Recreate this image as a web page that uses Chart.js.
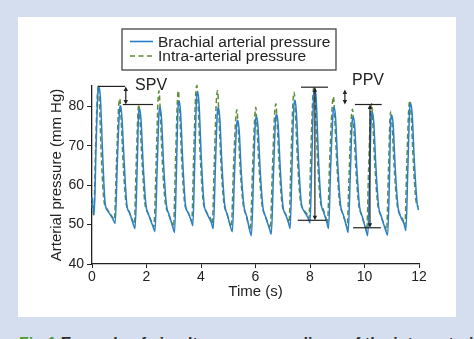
<!DOCTYPE html>
<html>
<head>
<meta charset="utf-8">
<script src="https://cdn.jsdelivr.net/npm/chart.js@4"></script>
<style>
  html, body { margin: 0; padding: 0; }
  body { width: 474px; height: 339px; overflow: hidden; background: #d5deef; position: relative;
         font-family: 'Liberation Sans', Arial, sans-serif; }
  #panel { position: absolute; left: 18px; top: 17px; width: 438px; height: 300px; background: #fff; }
  #caption { position: absolute; left: 19px; top: 335px; white-space: nowrap; font-weight: bold;
             font-size: 16px; color: #2b2b2b; }
  #caption span { color: #4e9a3c; }
</style>
</head>
<body>
<div id="panel"><canvas id="chart" width="438" height="300"></canvas></div>
<div id="caption"><span>Fig 1</span> Example of simultaneous recordings of the intra-arterial (IAP) and brachial pressure</div>
<script>
// brachial arterial pressure (solid), one row per beat
const blueTime = [
  0, 0.04, 0.08,
  0.15, 0.22, 0.26, 0.31, 0.39, 0.48, 0.58, 0.76, 0.85,
  0.93, 1.01, 1.05, 1.10, 1.18, 1.28, 1.38, 1.52, 1.58,
  1.66, 1.71, 1.75, 1.80, 1.88, 1.98, 2.08, 2.24, 2.31,
  2.39, 2.46, 2.50, 2.55, 2.63, 2.73, 2.83, 2.96, 3.03,
  3.10, 3.16, 3.20, 3.25, 3.33, 3.43, 3.53, 3.64, 3.70,
  3.77, 3.84, 3.88, 3.93, 4.01, 4.11, 4.21, 4.38, 4.45,
  4.53, 4.60, 4.64, 4.69, 4.77, 4.87, 4.97, 5.08, 5.15,
  5.23, 5.31, 5.35, 5.40, 5.48, 5.58, 5.68, 5.79, 5.85,
  5.93, 6.00, 6.04, 6.09, 6.17, 6.27, 6.37, 6.51, 6.58,
  6.66, 6.74, 6.78, 6.83, 6.91, 7.01, 7.11, 7.21, 7.27,
  7.34, 7.41, 7.45, 7.50, 7.58, 7.68, 7.78, 7.94, 8.00,
  8.07, 8.14, 8.18, 8.23, 8.31, 8.41, 8.51, 8.62, 8.68,
  8.76, 8.85, 8.89, 8.94, 9.02, 9.12, 9.22, 9.34, 9.40,
  9.48, 9.55, 9.59, 9.64, 9.72, 9.82, 9.92, 10.06, 10.12,
  10.19, 10.25, 10.29, 10.34, 10.42, 10.52, 10.62, 10.78, 10.85,
  10.92, 10.96, 11.00, 11.05, 11.13, 11.23, 11.33, 11.46, 11.52,
  11.59, 11.66, 11.70, 11.75, 11.83, 11.93, 11.98
];
const bluePressure = [
  57.0, 54.5, 52.5,
  70, 84, 85.0, 82, 68, 55.5, 53.5, 51.5, 50.3,
  66, 79, 80.2, 77, 66, 55, 53, 50, 49.0,
  65, 78, 79.4, 76.5, 65, 55, 52.5, 49.5, 48.2,
  64, 78.5, 79.8, 77, 65, 55, 52.5, 49.5, 48.0,
  64, 80, 81.3, 78.5, 66, 55, 53, 51, 49.7,
  66, 82.5, 83.6, 80.5, 67, 55.5, 53, 50.5, 49.0,
  65, 78.5, 79.8, 77, 65, 55, 52.5, 49.5, 48.2,
  63, 75.5, 76.5, 74, 63, 54.5, 52, 48.5, 47.2,
  63, 76.3, 77.3, 75, 64, 54.5, 52, 49, 47.6,
  63, 77, 78.0, 75.5, 64, 54.5, 52.5, 50.5, 49.0,
  65, 80.3, 81.5, 78.5, 66, 55.5, 53.5, 51.5, 50.4,
  67, 83.5, 84.5, 81.5, 67, 55.5, 53, 50.5, 49.0,
  65, 78.7, 79.8, 77, 65, 55, 52.5, 49.5, 48.0,
  63, 76.3, 77.3, 75, 64, 54.5, 52, 48.5, 47.2,
  63, 77.5, 78.6, 76, 64.5, 54.5, 52, 48.5, 47.3,
  63, 76.5, 77.7, 75.5, 64, 54.5, 52, 50, 48.5,
  64, 79.5, 80.7, 78, 66, 55.5, 53.7
];

// intra-arterial pressure (dashed)
const greenTime = [
  0, 0.03, 0.06,
  0.13, 0.19, 0.23, 0.27, 0.35, 0.44, 0.55, 0.74, 0.82,
  0.90, 0.97, 1.02, 1.06, 1.14, 1.24, 1.35, 1.49, 1.55,
  1.62, 1.68, 1.72, 1.76, 1.84, 1.94, 2.05, 2.20, 2.27,
  2.35, 2.42, 2.46, 2.50, 2.58, 2.68, 2.79, 2.93, 2.99,
  3.06, 3.13, 3.17, 3.21, 3.29, 3.39, 3.50, 3.61, 3.66,
  3.73, 3.80, 3.85, 3.89, 3.97, 4.07, 4.18, 4.35, 4.41,
  4.49, 4.56, 4.61, 4.65, 4.73, 4.83, 4.94, 5.05, 5.11,
  5.19, 5.27, 5.32, 5.36, 5.44, 5.54, 5.65, 5.76, 5.81,
  5.89, 5.97, 6.01, 6.05, 6.13, 6.23, 6.34, 6.48, 6.54,
  6.62, 6.70, 6.75, 6.79, 6.87, 6.97, 7.08, 7.18, 7.23,
  7.30, 7.37, 7.42, 7.46, 7.54, 7.64, 7.75, 7.91, 7.96,
  8.03, 8.10, 8.15, 8.19, 8.27, 8.37, 8.48, 8.59, 8.64,
  8.72, 8.81, 8.86, 8.90, 8.98, 9.08, 9.19, 9.31, 9.36,
  9.44, 9.51, 9.56, 9.60, 9.68, 9.78, 9.89, 10.03, 10.08,
  10.15, 10.22, 10.26, 10.30, 10.38, 10.48, 10.59, 10.75, 10.81,
  10.88, 10.93, 10.97, 11.01, 11.09, 11.19, 11.30, 11.43, 11.48,
  11.55, 11.62, 11.67, 11.71, 11.79, 11.89, 11.98
];
const greenPressure = [
  55.5, 53.5, 52.5,
  69, 82, 85.3, 81, 66, 56, 54, 52, 51.3,
  66, 79, 82, 78, 66, 56, 53.5, 51, 50.2,
  65, 77.5, 80.5, 76.5, 65.5, 55.5, 53, 50.5, 49.4,
  65, 81, 84, 79.5, 66, 56, 53, 50.5, 49.3,
  65, 81, 84, 79.5, 66.5, 56, 53.5, 51.8, 50.8,
  67, 82.5, 85.3, 81, 67.5, 56.5, 53.5, 51.5, 50.2,
  66, 81, 84, 79, 66, 56, 53, 50.5, 49.4,
  64, 76.5, 79.2, 75, 64, 55.5, 52.5, 49.5, 48.5,
  64, 77, 79.8, 75.5, 64.5, 55.5, 52.5, 50, 48.8,
  64, 78, 80.7, 76.5, 65, 55.5, 53, 51.5, 50.2,
  66, 80.5, 83.6, 79, 66.5, 56.5, 54, 52.5, 51.5,
  68, 82, 85.0, 81, 67.5, 56.5, 54, 51.5, 50.2,
  66, 79.5, 82.5, 78, 66, 56, 53, 50.5, 49.3,
  64, 76.5, 79.3, 75.5, 64.5, 55.5, 52.5, 49.5, 48.4,
  64, 78, 80.7, 76.5, 65, 55.5, 52.5, 49.5, 48.5,
  64, 76, 78.8, 75.5, 64.5, 55.5, 52.5, 51, 49.7,
  65, 79, 81.5, 78, 66, 56, 54.5
];

const xTicks = [0, 2, 4, 6, 8, 10, 12];
const yTicks = [40, 50, 60, 70, 80];

// SPV / PPV brackets in data units: [t1, p1, t2, p2]
const bracketLines = [
  [0.22, 85.1, 1.21, 85.1], [1.13, 80.5, 2.24, 80.5],
  [7.67, 84.9, 8.66, 84.9], [7.55, 51.1, 8.59, 51.1],
  [9.65, 80.5, 10.63, 80.5], [9.58, 49.2, 10.60, 49.2]
];
// double arrows: [t, pTop, pBottom]
const bracketArrows = [
  [1.24, 85.1, 80.5], [8.18, 84.9, 51.1], [9.28, 84.3, 80.5], [10.20, 80.5, 49.2]
];
// labels: [text, t, p]
const bracketLabels = [['SPV', 1.58, 84.3], ['PPV', 9.54, 85.4]];

const BLUE = '#2a7fc9';
const GREEN = '#5e8c3a';
const INK = '#222';

const toPoints = (ts, vs) => ts.map((t, i) => ({x: t, y: vs[i]}));

const annotations = {
  id: 'annotations',
  afterDatasetsDraw(chart) {
    const {ctx, scales: {x, y}} = chart;
    ctx.save();
    ctx.strokeStyle = INK;
    ctx.fillStyle = INK;
    ctx.lineWidth = 1.2;
    bracketLines.forEach(([t1, p1, t2, p2]) => {
      ctx.beginPath();
      ctx.moveTo(x.getPixelForValue(t1), y.getPixelForValue(p1));
      ctx.lineTo(x.getPixelForValue(t2), y.getPixelForValue(p2));
      ctx.stroke();
    });
    bracketArrows.forEach(([t, pTop, pBot]) => {
      const px = x.getPixelForValue(t);
      const y1 = y.getPixelForValue(pTop), y2 = y.getPixelForValue(pBot);
      ctx.beginPath();
      ctx.moveTo(px, y1 + 2);
      ctx.lineTo(px, y2 - 2);
      ctx.stroke();
      ctx.beginPath();
      ctx.moveTo(px, y1); ctx.lineTo(px - 2.2, y1 + 4.5); ctx.lineTo(px + 2.2, y1 + 4.5);
      ctx.closePath();
      ctx.moveTo(px, y2); ctx.lineTo(px - 2.2, y2 - 4.5); ctx.lineTo(px + 2.2, y2 - 4.5);
      ctx.closePath();
      ctx.fill();
    });
    ctx.font = "16px 'Liberation Sans', Arial, sans-serif";
    ctx.textBaseline = 'alphabetic';
    ctx.textAlign = 'left';
    bracketLabels.forEach(([txt, t, p]) => {
      ctx.fillText(txt, x.getPixelForValue(t), y.getPixelForValue(p));
    });
    ctx.restore();
  },
  afterDraw(chart) {
    // boxed legend
    const {ctx} = chart;
    ctx.save();
    ctx.strokeStyle = '#444';
    ctx.lineWidth = 1.3;
    ctx.strokeRect(104, 12, 214, 41);
    ctx.lineWidth = 1.6;
    ctx.strokeStyle = BLUE;
    ctx.beginPath(); ctx.moveTo(112, 24.5); ctx.lineTo(135, 24.5); ctx.stroke();
    ctx.strokeStyle = GREEN;
    ctx.setLineDash([5, 3.5]);
    ctx.beginPath(); ctx.moveTo(112, 39); ctx.lineTo(135, 39); ctx.stroke();
    ctx.setLineDash([]);
    ctx.fillStyle = INK;
    ctx.font = "15.5px 'Liberation Sans', Arial, sans-serif";
    ctx.fillText('Brachial arterial pressure', 140, 29.5);
    ctx.fillText('Intra-arterial pressure', 140, 43.8);
    ctx.restore();
  }
};

new Chart(document.getElementById('chart'), {
  type: 'line',
  data: {
    datasets: [
      {
        label: 'Brachial arterial pressure',
        data: toPoints(blueTime, bluePressure),
        borderColor: BLUE,
        borderWidth: 1.5,
        pointRadius: 0,
        cubicInterpolationMode: 'monotone',
        clip: false
      },
      {
        label: 'Intra-arterial pressure',
        data: toPoints(greenTime, greenPressure),
        borderColor: GREEN,
        borderWidth: 1.5,
        borderDash: [5, 3],
        pointRadius: 0,
        cubicInterpolationMode: 'monotone',
        clip: false
      }
    ]
  },
  options: {
    responsive: false,
    animation: false,
    devicePixelRatio: 1,
    layout: {padding: {top: 69, right: 37, left: 0, bottom: 0}},
    plugins: {legend: {display: false}, tooltip: {enabled: false}},
    scales: {
      x: {
        type: 'linear',
        min: 0, max: 12,
        afterBuildTicks: s => { s.ticks = xTicks.map(v => ({value: v})); },
        afterFit: s => { s.height = 53; },
        grid: {drawOnChartArea: false, drawTicks: true, tickLength: 4, color: INK},
        border: {display: true, color: INK, width: 1.3},
        ticks: {color: INK, padding: 1, font: {size: 14, family: "'Liberation Sans', Arial, sans-serif"}},
        title: {display: true, text: 'Time (s)', color: INK, padding: {top: 0, bottom: 16},
                font: {size: 15, family: "'Liberation Sans', Arial, sans-serif"}}
      },
      y: {
        min: 40, max: 85.2,
        afterBuildTicks: s => { s.ticks = yTicks.map(v => ({value: v})); },
        afterFit: s => { s.width = 74; },
        grid: {drawOnChartArea: false, drawTicks: true, tickLength: 5, color: INK},
        border: {display: true, color: INK, width: 1.3},
        ticks: {color: INK, padding: 3, font: {size: 14, family: "'Liberation Sans', Arial, sans-serif"}},
        title: {display: true, text: 'Arterial pressure (mm Hg)', color: INK, padding: {top: 30, bottom: 0},
                font: {size: 15, family: "'Liberation Sans', Arial, sans-serif"}}
      }
    }
  },
  plugins: [annotations]
});
</script>
</body>
</html>
